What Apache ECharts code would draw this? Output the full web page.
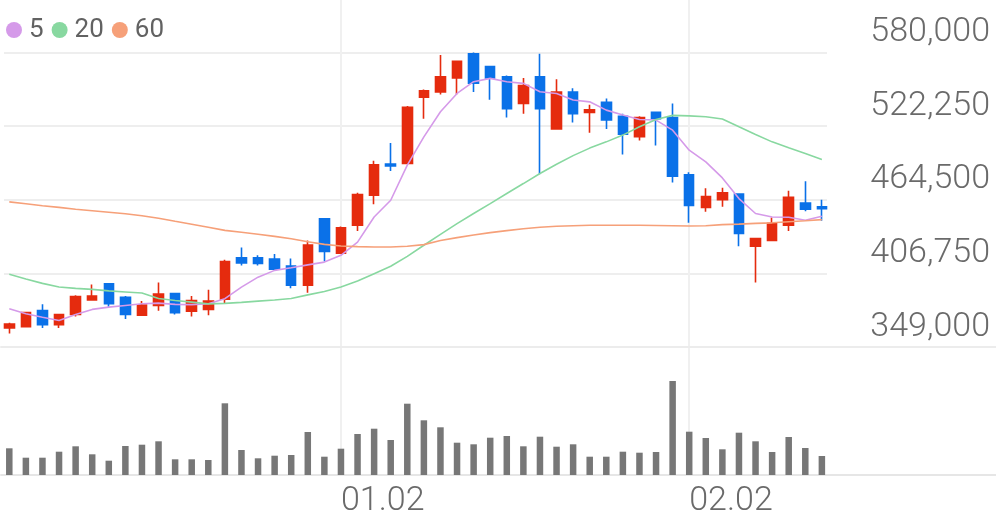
<!DOCTYPE html>
<html>
<head>
<meta charset="utf-8">
<script src="https://cdn.jsdelivr.net/npm/echarts@6/dist/echarts.min.js"></script>
<style>
  html, body { margin: 0; padding: 0; background: #fff; }
  #chart { width: 996px; height: 519px; }
</style>
</head>
<body>
<div id="chart"></div>
<script>
// trading days, last 10 slots are left empty on the right
const dates = [
    "12.02", "12.05", "12.06", "12.07", "12.08", "12.09", "12.12", "12.13", "12.14", "12.15",
    "12.16", "12.19", "12.20", "12.21", "12.22", "12.23", "12.26", "12.27", "12.28", "12.29",
    "01.02", "01.03", "01.04", "01.05", "01.06", "01.09", "01.10", "01.11", "01.12", "01.13",
    "01.16", "01.17", "01.18", "01.19", "01.20", "01.25", "01.26", "01.27", "01.30", "01.31",
    "02.01", "02.02", "02.03", "02.06", "02.07", "02.08", "02.09", "02.10", "02.13", "02.14",
    "", "", "", "", "", "", "", "", "", "",
];
const tick_dates = ["01.02", "02.02"];

const open_price = [
    364000, 365000, 377500, 366500, 374500, 386000, 398500, 388000, 374000, 381500,
    391000, 377000, 378500, 386500, 419000, 419000, 418000, 412500, 397500, 449500,
    422500, 444500, 468000, 492500, 493000, 545000, 549000, 560000, 579000, 569000,
    561000, 540000, 561000, 520000, 549000, 533000, 541000, 530000, 514000, 533000,
    529000, 484000, 458500, 464500, 469000, 428000, 432500, 444500, 462000, 459000,
];
const close_price = [
    367000, 376000, 366500, 374500, 388500, 389000, 383000, 374500, 382000, 390500,
    376000, 385500, 385000, 416000, 415000, 414500, 410000, 397500, 429000, 424000,
    442500, 468500, 492000, 491000, 537000, 550000, 561000, 573000, 556000, 560000,
    536000, 554000, 536000, 549000, 532000, 535000, 527000, 516000, 529000, 528000,
    483000, 460000, 467000, 470000, 438000, 434000, 446000, 466500, 457000, 457500,
];
const low_price = [
    359500, 364500, 364000, 364000, 373000, 385500, 380500, 371000, 374000, 377500,
    374500, 373000, 374000, 383500, 413000, 413000, 409500, 395000, 391500, 416000,
    422000, 440000, 461000, 487000, 493000, 528000, 547000, 547000, 549000, 543000,
    529000, 532000, 484500, 520000, 525000, 517000, 520000, 500000, 511000, 507000,
    478000, 446500, 455000, 459000, 428000, 399500, 432500, 440000, 455500, 448000,
];
const high_price = [
    368000, 376500, 382500, 374500, 389500, 398000, 398500, 389000, 385000, 399500,
    391500, 389000, 394000, 417500, 427000, 421000, 422000, 418500, 432500, 449500,
    443500, 470000, 495000, 509000, 538000, 551000, 578000, 573000, 580000, 569000,
    562000, 560000, 579000, 559000, 552000, 539000, 544000, 532000, 530000, 533000,
    540000, 486000, 473500, 474000, 469000, 434000, 450500, 471500, 479000, 464500,
];
// volume, thousand shares
const volume = [
    267, 173, 173, 233, 287, 207, 143, 290, 303, 337,
    157, 157, 150, 717, 250, 167, 193, 200, 430, 183,
    263, 410, 463, 350, 713, 547, 477, 323, 307, 373,
    390, 287, 383, 283, 307, 183, 183, 233, 223, 230,
    940, 433, 370, 257, 423, 337, 230, 380, 270, 190,
];
const ma_5 = [
    379000, 375100, 372400, 369800, 374500, 378500, 380300, 381600, 382900, 383400,
    382400, 382200, 382900, 386900, 396000, 403800, 409100, 411200, 413400, 415600,
    420900, 431300, 451000, 464100, 491600, 513800, 533500, 547900, 557100, 559700,
    557100, 555800, 549200, 547900, 542700, 541300, 534800, 530900, 527500, 527000,
    519100, 503400, 494200, 481600, 465400, 453700, 451000, 450800, 448400, 451500,
];
const ma_20 = [
    406000, 402400, 398900, 396100, 395000, 394200, 393000, 392200, 391300, 387100,
    385500, 384200, 382800, 383200, 384000, 385000, 385900, 387100, 389900, 392600,
    396100, 400700, 406500, 412300, 420100, 428800, 437400, 445800, 453700, 461500,
    469400, 477200, 485100, 492400, 499100, 505000, 509900, 515200, 521700, 527500,
    530700, 530300, 529600, 527800, 521700, 515700, 509900, 505200, 500800, 496100,
];
const ma_60 = [
    462800, 461400, 459800, 458500, 457000, 455900, 454700, 453500, 451900, 450000,
    447600, 445300, 442900, 440500, 439000, 437400, 435800, 433900, 431500, 429500,
    428200, 427700, 427400, 427400, 428000, 429300, 432500, 434800, 436800, 438700,
    440300, 441700, 442900, 443700, 444100, 444500, 444500, 444500, 444500, 444300,
    444100, 443900, 444100, 445000, 445400, 446000, 446400, 447200, 448000, 448900,
];

const price_min = 349000;
const price_max = 580000;
const price_step = 57750;

const color_up = '#e52b0e';
const color_down = '#0a71e8';
const text_color = '#6a6a6a';
const font = 'Roboto';
const label_weight = 300;  // axis labels are light, legend is regular

const is_tick = (idx, val) => tick_dates.includes(val);

let chart = echarts.init(document.getElementById('chart'));
let option = {
    animation: false,
    textStyle: { fontFamily: font },
    legend: {
        left: 1,
        top: 12,
        icon: 'circle',
        itemWidth: 20,
        itemHeight: 16,
        itemGap: 8,
        textStyle: { fontSize: 26, color: '#626262', fontFamily: font },
        data: ['5', '20', '60'],
    },
    grid: [
        { left: 1, right: 0, top: 52.5, height: 294.5 },   // candles
        { left: 4, right: 169, top: 52.5, height: 294.5 }, // price grid lines + labels
        { left: 1, right: 0, top: 381, height: 94 },       // volume
        { left: 9.29, right: 8.29, top: 0, height: 475 },  // month lines + date labels
    ],
    xAxis: [
        {
            gridIndex: 0, type: 'category', data: dates, boundaryGap: true,
            axisLine: { show: true, lineStyle: { color: '#ececec', width: 2 } },
            axisTick: { show: false }, axisLabel: { show: false }, splitLine: { show: false },
        },
        { gridIndex: 1, type: 'value', show: false },
        {
            gridIndex: 2, type: 'category', data: dates, boundaryGap: true,
            axisLine: { show: true, lineStyle: { color: '#e6e6e6', width: 2 } },
            axisTick: { show: false }, axisLabel: { show: false }, splitLine: { show: false },
        },
        {
            gridIndex: 3, type: 'category', data: dates, boundaryGap: false,
            axisLine: { show: false }, axisTick: { show: false },
            axisLabel: {
                interval: is_tick, align: 'left', margin: 9,
                fontSize: 34, color: text_color, fontFamily: font, fontWeight: label_weight,
            },
            splitLine: { show: true, interval: is_tick, lineStyle: { color: '#f0f0f0', width: 2 } },
        },
    ],
    yAxis: [
        { gridIndex: 0, type: 'value', min: price_min, max: price_max, show: false },
        {
            gridIndex: 1, type: 'value', position: 'right',
            min: price_min, max: price_max, interval: price_step,
            axisLine: { show: false }, axisTick: { show: false },
            axisLabel: {
                align: 'right', verticalAlign: 'bottom', margin: 163,
                padding: [0, 0, 3, 0],
                fontSize: 34, color: text_color, fontFamily: font, fontWeight: label_weight,
                formatter: (v) => v.toLocaleString('en-US'),
            },
            splitLine: { show: true, lineStyle: { color: '#eeeeee', width: 2 } },
        },
        { gridIndex: 2, type: 'value', min: 0, max: 940, show: false },
        { gridIndex: 3, type: 'value', show: false },
    ],
    series: [
        {
            name: '5', type: 'line', xAxisIndex: 0, yAxisIndex: 0,
            data: ma_5, symbol: 'none', color: '#d59ae9',
            lineStyle: { width: 1.6 },
        },
        {
            name: '20', type: 'line', xAxisIndex: 0, yAxisIndex: 0,
            data: ma_20, symbol: 'none', color: '#88d8a0',
            lineStyle: { width: 1.6 },
        },
        {
            name: '60', type: 'line', xAxisIndex: 0, yAxisIndex: 0,
            data: ma_60, symbol: 'none', color: '#f6a079',
            lineStyle: { width: 1.6 },
        },
        {
            name: 'price', type: 'candlestick', xAxisIndex: 0, yAxisIndex: 0,
            barWidth: 10,
            data: open_price.map((o, i) => [o, close_price[i], low_price[i], high_price[i]]),
            itemStyle: {
                color: color_up, color0: color_down,
                borderColor: color_up, borderColor0: color_down,
                borderWidth: 1.6,
            },
        },
        {
            name: 'volume', type: 'bar', xAxisIndex: 2, yAxisIndex: 2,
            data: volume, barWidth: 6.5, color: '#777777',
        },
    ],
};
chart.setOption(option);
</script>
</body>
</html>
